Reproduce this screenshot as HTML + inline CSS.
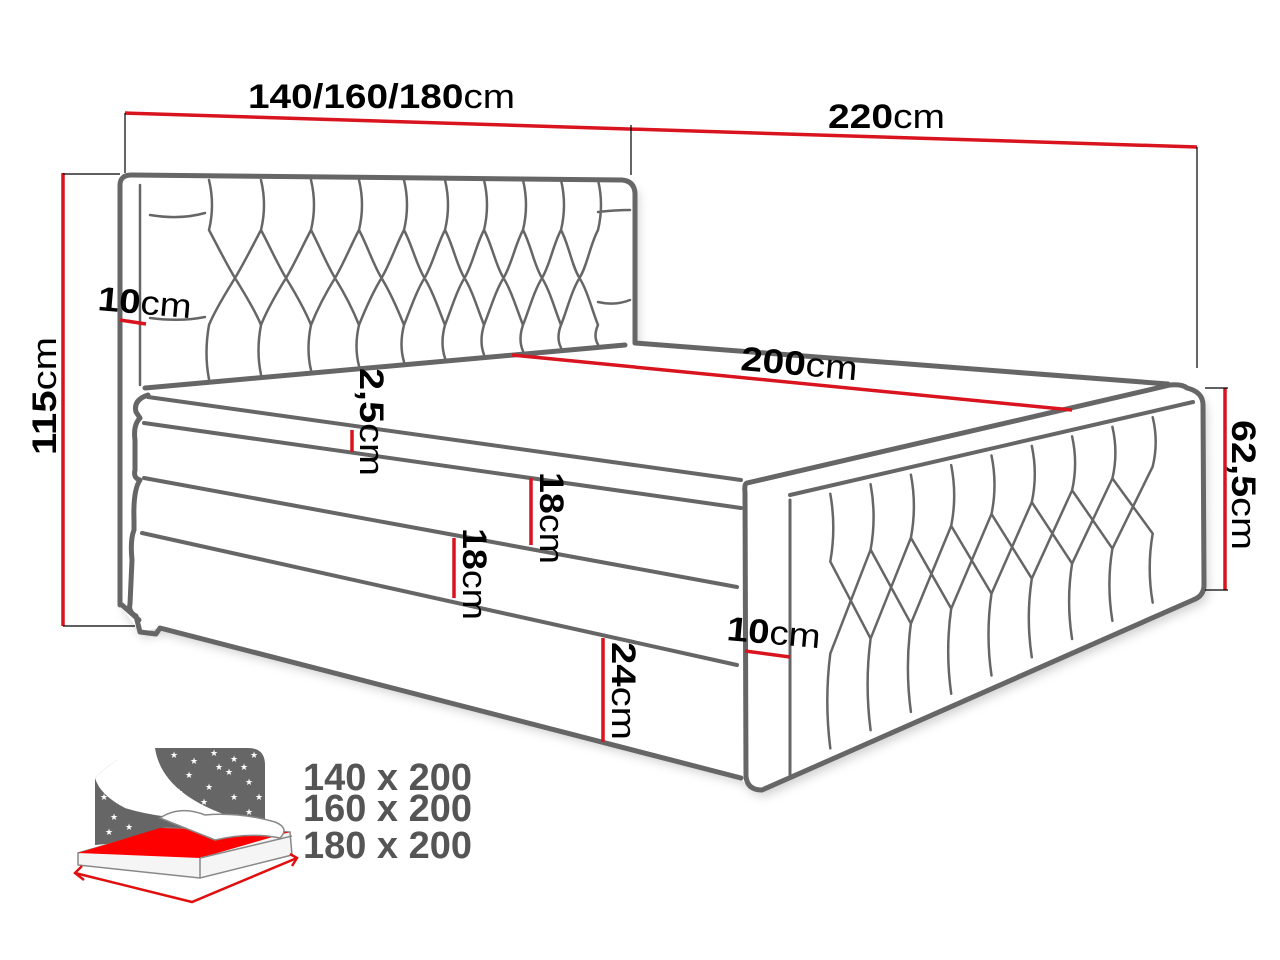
<!DOCTYPE html>
<html><head><meta charset="utf-8"><style>
html,body{margin:0;padding:0;background:#fff;}
svg{display:block;font-family:"Liberation Sans",sans-serif;}
.b{font-weight:bold;}
</style></head><body>
<svg id="s" width="1280" height="960" viewBox="0 0 1280 960" xmlns="http://www.w3.org/2000/svg">
<defs>
<filter id="sh" x="-5%" y="-5%" width="115%" height="115%"><feDropShadow dx="4" dy="6" stdDeviation="5" flood-color="#000" flood-opacity="0.18"/></filter>
</defs>
<rect width="1280" height="960" fill="#fff"/>
<g fill="#fff" stroke="none" filter="url(#sh)">
<path d="M120,605 L120,185 Q120,175 132,175 L622,180 Q634,181 635,193 L635,343 L1165,383 Q1180,384 1188,388 Q1203,392 1203,405 L1204,585 Q1204,596 1193,600 L762,790 Q748,790 741,778 L160,628 L140,632 L120,605 Z"/>
</g>
<g fill="none" stroke="#666" stroke-width="5" stroke-linejoin="round" stroke-linecap="round">
<path d="M120,605 L120,185 Q120,175 132,175 L622,180 Q634,181 635,193 L635,343 L1168,384"/>
<path d="M145,388 L625,345"/>
<path d="M148,395 Q133,400 136,412 L140,418 Q133,425 135,440 L135,470 Q133,478 140,480 Q133,490 134,520 L134,530 Q130,540 132,560 L130,604 Q128,612 136,616 L140,632 L156,634 L160,628 L741,778"/>
<path d="M122,605 L139,620"/>
<path d="M148,397 L741,480" stroke-width="4"/>
<path d="M144,423 L741,508" stroke-width="4"/>
<path d="M144,478 L737,587" stroke-width="4"/>
<path d="M142,533 L737,665" stroke-width="4"/>
<path d="M747,483 L1170,385 Q1182,384 1187,388 Q1203,392 1203,405 L1204,585 Q1204,596 1193,600 L762,790 Q747,790 746,776 L745,492 Q744,484 747,483 Z"/>
<path d="M790,495 L1193,402" stroke-width="4"/>
<path d="M790,500 L790,775" stroke-width="3"/>
</g>
<g id="tuft" fill="none" stroke="#666" stroke-width="2.5" stroke-linecap="round"></g>
<g stroke="#d9141e" stroke-width="3.5" fill="none">
<line x1="125" y1="113" x2="1197" y2="147"/>
<line x1="63" y1="173" x2="63" y2="626"/>
<line x1="1225" y1="388" x2="1225" y2="590"/>
<line x1="512" y1="355" x2="1072" y2="410"/>
<line x1="120" y1="320" x2="146" y2="324"/>
<line x1="745" y1="651" x2="790" y2="657"/>
<line x1="352" y1="430" x2="352" y2="452"/>
<line x1="531" y1="478" x2="531" y2="545"/>
<line x1="454" y1="538" x2="454" y2="598"/>
<line x1="603" y1="638" x2="603" y2="742"/>
</g>
<g stroke="#000" stroke-width="1.2">
<line x1="125" y1="113" x2="125" y2="173"/>
<line x1="631" y1="125" x2="631" y2="175"/>
<line x1="1197" y1="147" x2="1197" y2="368"/>
<line x1="63" y1="174" x2="120" y2="174"/>
<line x1="63" y1="626" x2="135" y2="626"/>
<line x1="1205" y1="388" x2="1228" y2="388"/>
<line x1="1205" y1="590" x2="1228" y2="590"/>
</g>
<g fill="#000" font-size="34">
<text x="248" y="108" textLength="267" lengthAdjust="spacingAndGlyphs"><tspan class="b">140/160/180</tspan>cm</text>
<text x="828" y="128" textLength="117" lengthAdjust="spacingAndGlyphs"><tspan class="b">220</tspan>cm</text>
<text x="740" y="370" transform="rotate(5 740 370)" textLength="117" lengthAdjust="spacingAndGlyphs"><tspan class="b">200</tspan>cm</text>
<text x="97" y="310" transform="rotate(5 97 310)" textLength="94" lengthAdjust="spacingAndGlyphs"><tspan class="b">10</tspan>cm</text>
<text x="726" y="640" transform="rotate(5 726 640)" textLength="94" lengthAdjust="spacingAndGlyphs"><tspan class="b">10</tspan>cm</text>
<text x="56" y="455" transform="rotate(-90 56 455)" textLength="118" lengthAdjust="spacingAndGlyphs"><tspan class="b">115</tspan>cm</text>
<text x="1232" y="420" transform="rotate(90 1232 420)" textLength="130" lengthAdjust="spacingAndGlyphs"><tspan class="b">62,5</tspan>cm</text>
<text x="360" y="368" transform="rotate(90 360 368)" textLength="108" lengthAdjust="spacingAndGlyphs"><tspan class="b">2,5</tspan>cm</text>
<text x="540" y="472" transform="rotate(90 540 472)" textLength="92" lengthAdjust="spacingAndGlyphs"><tspan class="b">18</tspan>cm</text>
<text x="463" y="528" transform="rotate(90 463 528)" textLength="92" lengthAdjust="spacingAndGlyphs"><tspan class="b">18</tspan>cm</text>
<text x="612" y="642" transform="rotate(90 612 642)" textLength="98" lengthAdjust="spacingAndGlyphs"><tspan class="b">24</tspan>cm</text>
</g>
<g>
<path d="M95,748 L248,748 Q265,748 265,765 L265,830 L95,845 Z" fill="#666"/>
<path d="M95,748 L117,748 L117,760 Q102,770 95,778 Z" fill="#fff"/>
<path d="M117,748 L155,748 Q162,795 235,818 Q170,822 125,808 Q100,795 95,778 Q102,770 117,760 Z" fill="#fff"/>
<g fill="#fff" font-size="9" id="stars"></g>
<path d="M78,853 L165,828 L290,832 L292,855 L200,878 L78,865 Z" fill="#f5f5f5" stroke="#888" stroke-width="1.5"/>
<path d="M78,853 L160,828 L290,832 L200,858 Z" fill="#f00"/>
<path d="M200,858 L200,878 M200,858 L292,836" stroke="#888" stroke-width="1.5" fill="none"/>
<path d="M160,818 Q180,805 205,815 Q240,812 275,822 Q290,828 280,838 Q250,832 215,840 Q195,832 160,818 Z" fill="#fff" stroke="#888" stroke-width="1.5"/>
<path d="M75,873 L192,902 L297,858" stroke="#e01010" stroke-width="2.5" fill="none"/>
<path d="M82,866 L75,873 L84,880 M290,854 L297,858 L292,866" stroke="#e01010" stroke-width="2.5" fill="none"/>
</g>
<g fill="#555" font-size="38" class="b">
<text x="303" y="790" textLength="169" lengthAdjust="spacingAndGlyphs">140 x 200</text>
<text x="303" y="821" textLength="169" lengthAdjust="spacingAndGlyphs">160 x 200</text>
<text x="303" y="858" textLength="169" lengthAdjust="spacingAndGlyphs">180 x 200</text>
</g>
</svg>
<script>
(function(){
var ns="http://www.w3.org/2000/svg",g=document.getElementById('tuft'),d="";
var xs=[145,209,261,311,359,404,445,484,523,561,598,630];
function hb(x){return 388-(x-145)*(43/480);}
for(var i=1;i<xs.length-1;i++){var x=xs[i];
 d+="M"+x+",180 Q"+(x+6)+",205 "+x+",230 ";
 d+="M"+x+",325 Q"+(x-5)+","+((325+hb(x))/2)+" "+x+","+(hb(x)-3)+" ";}
for(var i=1;i<xs.length-2;i++){var a=xs[i],b=xs[i+1],m=(a+b)/2;
 d+="M"+a+",230 C"+(a+8)+",245 "+(m-8)+",265 "+m+",278 S"+(b-6)+",310 "+b+",325 ";
 d+="M"+b+",230 C"+(b-8)+",245 "+(m+8)+",265 "+m+",278 S"+(a+6)+",310 "+a+",325 ";}
d+="M150,215 Q180,220 205,213 M150,318 Q180,322 205,317 M598,212 Q615,210 630,210 M598,302 Q615,306 630,300 ";
d+="M140,185 L140,385 ";
function P(u,v){var tx=790+u*403,ty=495-u*93,by=775-u*185;return [tx,ty+v*(by-ty)];}
var n=10;
for(var i=1;i<n;i++){var u=i/n,p=P(u,0.03),q=P(u,0.28),r=P(u,0.62),s=P(u,0.97);
 d+="M"+p[0]+","+p[1]+" Q"+(p[0]+6)+","+((p[1]+q[1])/2)+" "+q[0]+","+q[1]+" ";
 d+="M"+r[0]+","+r[1]+" Q"+(r[0]-6)+","+((r[1]+s[1])/2)+" "+s[0]+","+s[1]+" ";}
for(var i=1;i<n-1;i++){var a=P(i/n,0.28),b=P((i+1)/n,0.62),c=P((i+1)/n,0.28),e=P(i/n,0.62);
 d+="M"+a[0]+","+a[1]+" L"+b[0]+","+b[1]+" ";
 d+="M"+c[0]+","+c[1]+" L"+e[0]+","+e[1]+" ";}
var p=document.createElementNS(ns,'path');p.setAttribute('d',d);g.appendChild(p);
var st=document.getElementById('stars');
var pts=[[170,758],[190,764],[210,756],[230,762],[250,758],[185,778],[205,790],[225,775],[245,785],[255,800],[200,805],[230,800],[245,815],[175,795],[215,770],[240,770],[100,800],[110,820],[105,835],[125,830]];
pts.forEach(function(a){var t=document.createElementNS(ns,'text');t.setAttribute('x',a[0]);t.setAttribute('y',a[1]);t.textContent='★';st.appendChild(t);});
})();
</script>
</body></html>
